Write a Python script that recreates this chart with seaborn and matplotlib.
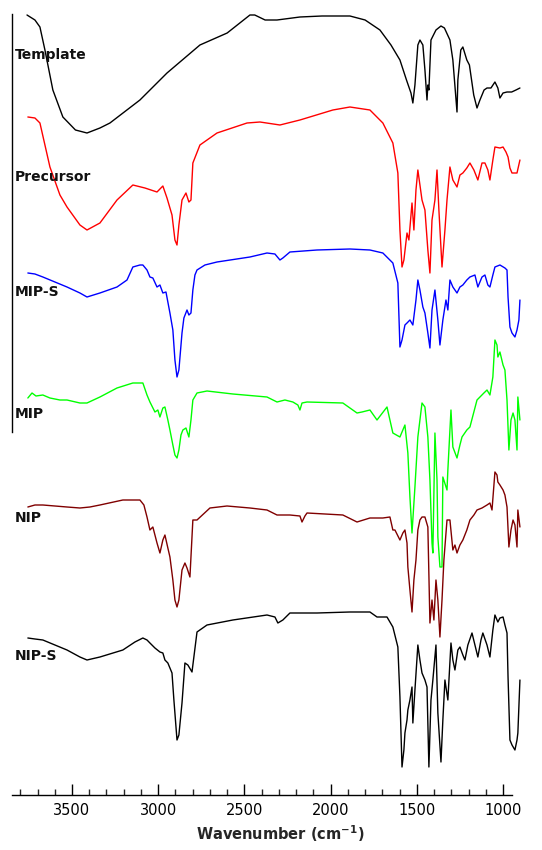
import matplotlib
matplotlib.use("Agg")
import matplotlib.pyplot as plt
from matplotlib.ticker import FixedLocator
import seaborn as sns
import pandas as pd

# ---------------- data ----------------
# values are offset signal levels in arbitrary units (larger = lower on the page)
template_wn = [3761,3715,3686,3657,3611,3553,3480,3413,3338,3280,3106,2949,2758,2600,2468,2440,2380,2311,2178,2050,
               1888,1800,1714,1650,1598,1560,1534,1523,1511,1494,1482,1465,1453,1441,1436,1430,1418,1389,1360,1340,
               1308,1291,1267,1262,1245,1233,1210,1195,1170,1151,1134,1110,1093,1070,1047,1030,1018,1000,977,950,925,902]
template_val = [15,20,27,50,90,117,130,133,128,123,100,73,45,33,15,15,20,20,17,16,
                16,20,30,45,60,80,93,103,85,45,40,45,70,100,85,90,40,30,26,28,
                40,60,112,80,50,47,60,65,95,108,100,90,88,88,82,88,98,93,92,92,90,88]

precursor_wn = [3756,3715,3686,3628,3570,3529,3454,3413,3338,3239,3147,3077,3007,2973,2949,2920,2903,2891,2880,2862,
                2839,2822,2810,2799,2758,2659,2485,2410,2294,2178,1987,1888,1772,1697,1639,1610,1598,1586,1575,1557,
                1546,1528,1517,1505,1494,1482,1470,1453,1436,1424,1412,1395,1383,1372,1354,1337,1325,1308,1291,1267,
                1250,1233,1210,1192,1169,1146,1122,1105,1088,1076,1059,1047,1018,1000,983,971,960,948,919,902]
precursor_val = [117,118,123,167,195,207,225,230,223,200,185,188,192,186,198,215,240,245,225,200,
                 193,202,200,163,145,133,123,122,125,120,110,107,110,123,143,173,230,267,260,233,
                 240,203,230,190,170,185,200,210,250,273,220,200,170,210,267,230,200,167,180,187,
                 175,173,168,163,170,180,163,163,170,180,160,147,148,147,152,157,168,173,173,160]

mips_wn = [3756,3715,3669,3599,3529,3454,3413,3338,3239,3181,3147,3106,3089,3065,3048,3031,3007,2990,2973,2955,
           2932,2915,2903,2891,2880,2862,2851,2833,2822,2810,2799,2787,2775,2729,2659,2468,2369,2323,2294,2277,
           2236,2079,1888,1772,1697,1639,1610,1598,1586,1569,1557,1540,1523,1505,1494,1482,1465,1453,1436,1424,
           1412,1395,1378,1366,1349,1331,1320,1308,1291,1267,1250,1233,1210,1192,1163,1146,1122,1105,1088,1076,
           1059,1047,1018,989,977,971,960,948,931,919,908,902]
mips_val = [273,274,277,282,287,293,297,293,287,280,267,265,265,270,277,278,287,285,293,292,
            313,330,360,377,370,333,318,310,315,313,290,275,270,265,262,257,253,254,260,258,
            252,250,249,250,253,263,283,347,340,325,323,320,325,300,280,290,307,313,333,348,
            310,290,320,345,320,300,310,280,287,293,287,285,280,277,275,287,277,275,285,287,
            275,267,265,268,270,297,327,333,337,330,320,300]

mip_wn = [3756,3732,3709,3669,3628,3570,3529,3454,3413,3338,3239,3147,3089,3065,3048,3019,3002,2990,2973,2961,
          2944,2932,2915,2903,2891,2880,2868,2857,2839,2822,2810,2799,2775,2717,2567,2369,2311,2265,2219,2190,
          2178,2166,2137,1929,1847,1818,1772,1731,1673,1639,1598,1569,1552,1540,1528,1511,1494,1470,1453,1436,
          1424,1412,1407,1395,1383,1378,1366,1354,1349,1325,1320,1302,1291,1267,1250,1238,1210,1192,1151,1111,
          1093,1076,1059,1047,1035,1030,1018,1000,989,977,966,954,942,931,919,914,902]
mip_val = [398,393,396,395,398,400,400,403,403,397,388,383,383,395,402,412,410,417,408,407,
           420,430,445,455,458,450,435,430,428,437,420,400,393,391,394,397,402,400,402,405,
           410,403,402,403,413,412,410,420,407,433,437,425,453,497,533,487,437,403,407,437,
           480,543,553,433,480,537,567,567,477,490,470,410,447,458,445,437,430,427,400,393,
           390,395,377,340,345,357,352,365,370,400,450,420,413,420,450,397,420]

nip_wn = [3756,3715,3669,3599,3529,3454,3396,3338,3205,3106,3083,3065,3048,3031,3007,2990,2973,2961,2944,2932,
          2915,2903,2891,2880,2862,2845,2833,2816,2799,2775,2700,2601,2468,2369,2311,2236,2178,2166,2149,2137,
          1929,1847,1772,1697,1656,1639,1627,1598,1581,1569,1557,1552,1540,1528,1517,1505,1494,1482,1470,1453,
          1436,1424,1412,1401,1389,1378,1366,1354,1343,1325,1308,1291,1279,1267,1250,1233,1210,1192,1169,1151,
          1122,1093,1076,1064,1047,1035,1030,1018,1000,989,977,966,954,942,931,919,914,902]
nip_val = [507,505,505,506,507,508,507,505,500,500,505,517,530,527,543,553,540,535,548,557,
           580,600,607,600,570,563,568,577,520,520,508,506,508,510,515,515,516,522,516,513,
           515,522,518,518,517,530,530,540,533,530,543,567,590,612,580,560,530,520,517,517,
           527,623,600,620,580,600,637,600,560,520,520,550,545,553,545,540,530,520,515,510,
           508,505,503,510,472,475,482,485,490,495,507,547,530,520,525,547,510,527]

nips_wn = [3756,3715,3669,3599,3529,3454,3413,3338,3205,3135,3089,3065,3048,3019,2990,2973,2961,2944,2920,2909,
           2891,2880,2862,2845,2828,2804,2775,2717,2567,2369,2323,2306,2277,2236,2079,1888,1772,1731,1673,1639,
           1610,1598,1586,1575,1569,1557,1552,1540,1528,1523,1511,1494,1482,1470,1453,1441,1430,1418,1407,1389,
           1378,1360,1349,1337,1320,1302,1291,1279,1262,1250,1233,1221,1204,1180,1163,1146,1128,1117,1093,1076,
           1059,1047,1030,1018,1000,989,977,971,960,948,931,919,914,902]
nips_val = [638,639,640,645,650,657,660,657,650,642,638,640,643,648,652,653,660,663,673,700,
            740,735,703,663,665,672,632,625,620,615,617,623,620,613,613,612,612,617,617,627,
            647,697,767,750,733,720,710,700,687,723,690,645,660,673,680,687,767,700,680,645,
            713,762,720,680,700,643,660,670,650,647,655,660,645,633,645,657,640,633,645,657,
            630,615,622,618,617,625,633,677,740,745,750,740,733,680]

series_names = ["Template", "Precursor", "MIP-S", "MIP", "NIP", "NIP-S"]
series_wn = [template_wn, precursor_wn, mips_wn, mip_wn, nip_wn, nips_wn]
series_val = [template_val, precursor_val, mips_val, mip_val, nip_val, nips_val]
series_colors = ["#000000", "#ff0000", "#0000ff", "#00ff00", "#800000", "#000000"]
label_levels = [55, 177, 292, 414, 518, 656]

xticks_major = [3500, 3000, 2500, 2000, 1500, 1000]

# ---------------- plot ----------------
sns.set_theme(style="white")
plt.rcParams["font.family"] = ["DejaVu Sans"]

W, H = 542, 850
fig = plt.figure(figsize=(W / 100, H / 100), dpi=100)
ax = fig.add_axes([12 / W, 55 / H, 510 / W, 795 / H])

for name, wn, val, col in zip(series_names, series_wn, series_val, series_colors):
    df = pd.DataFrame({"wn": wn, "val": val})
    sns.lineplot(data=df, x="wn", y="val", ax=ax, color=col, lw=1.0,
                 sort=False, estimator=None)

ax.set_xlim(3848, 890)
ax.set_ylim(795, 0)

for name, lev in zip(series_names, label_levels):
    ax.text(3832, lev, name, fontsize=10, fontweight="bold", color="#111111",
            ha="left", va="center")

for s in ["top", "right"]:
    ax.spines[s].set_visible(False)
ax.spines["left"].set_bounds(14, 432)
ax.spines["bottom"].set_bounds(3848, 948)
for s in ["left", "bottom"]:
    ax.spines[s].set_color("black")
    ax.spines[s].set_linewidth(1.0)

ax.xaxis.set_major_locator(FixedLocator(xticks_major))
ax.xaxis.set_minor_locator(FixedLocator([v for v in range(3800, 1000, -100) if v % 500 != 0]))
ax.tick_params(axis="x", which="major", direction="in", length=8, width=1, pad=6,
               labelsize=10.5, bottom=True, colors="black")
ax.tick_params(axis="x", which="minor", direction="in", length=4, width=1, bottom=True)
ax.set_yticks([])
ax.set_ylabel("")
ax.set_xlabel(r"Wavenumber (cm$^{\mathbf{-1}}$)", fontsize=10.5, fontweight="bold")
ax.xaxis.set_label_coords((280 - 12) / 510, -39 / 795)
ax.xaxis.label.set_va("center")

fig.savefig("out.png", dpi=100, facecolor="white")
